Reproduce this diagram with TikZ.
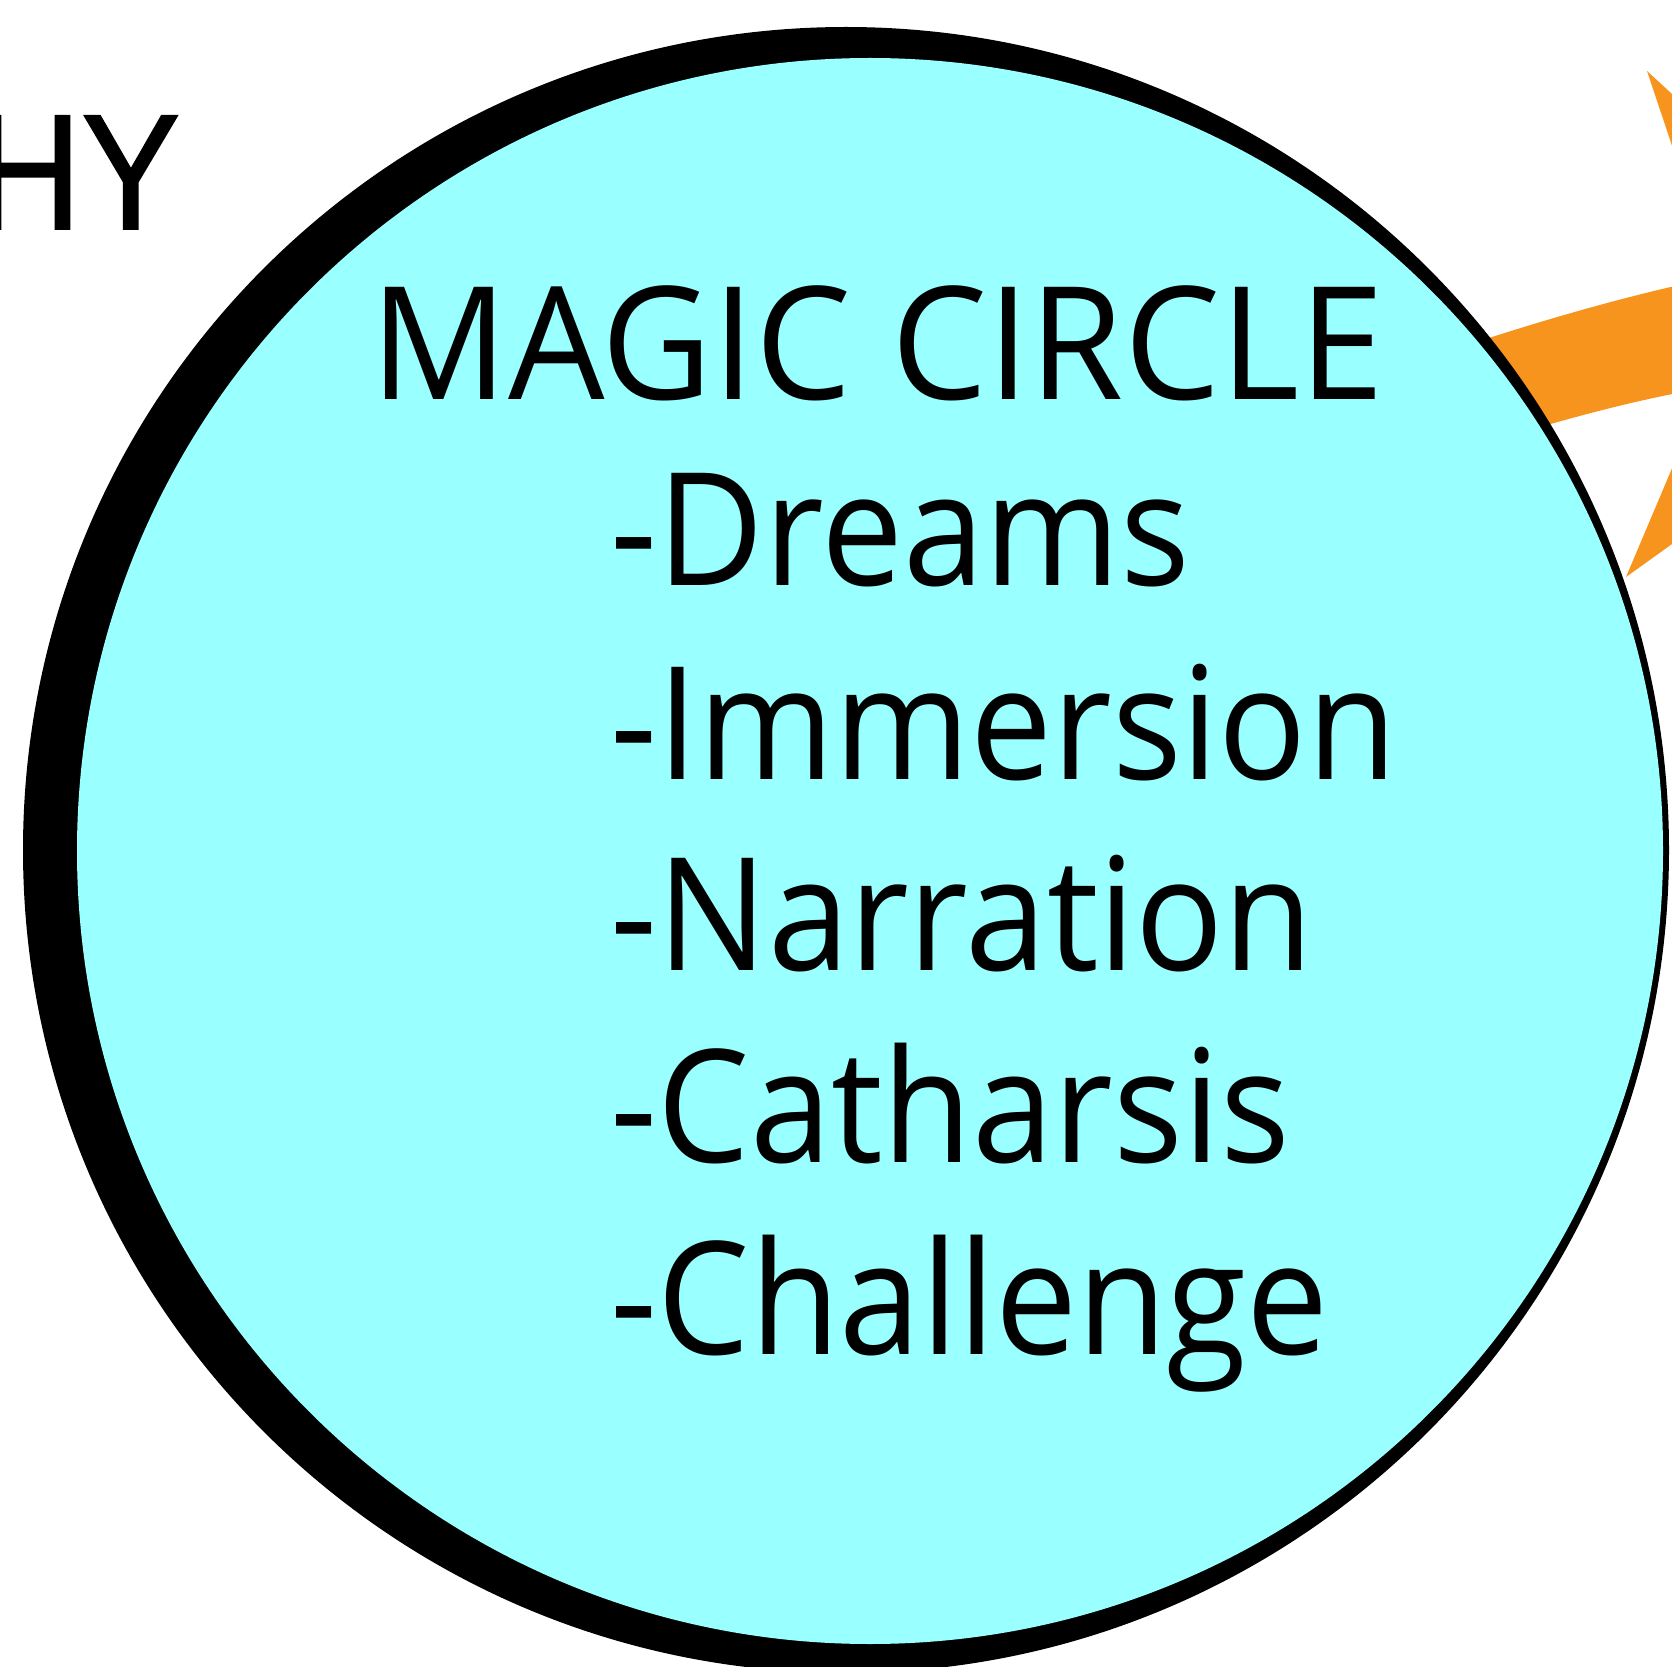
\documentclass[tikz,border=0pt]{standalone}
\usepackage{fontspec}
\setmainfont{Liberation Sans}
\newfontfamily\headfont[FakeStretch=0.9, FakeBold=1.2]{Liberation Sans}
\newfontfamily\titlefont[FakeStretch=0.97]{Open Sans}
\newfontfamily\listfont[FakeStretch=0.93]{Open Sans}
\definecolor{circleCyan}{HTML}{99FFFF}
\definecolor{arrowOrange}{HTML}{F7941D}
\usetikzlibrary{positioning}

\begin{document}
\begin{tikzpicture}[
    x=0.01cm, y=-0.01cm,
    label/.style={inner sep=0pt, font=\listfont\fontsize{44.7}{53}\selectfont, text=black},
    title/.style={inner sep=0pt, font=\titlefont\fontsize{44.7}{53}\selectfont, text=black},
    big/.style={inner sep=0pt, font=\headfont\fontsize{46.8}{55}\selectfont, text=black}
]
\useasboundingbox (0,0) rectangle (1672,1667);
\clip (0,0) rectangle (1672,1667);

% Orange arrow (behind the circle)
\fill[arrowOrange] (1350,385) .. controls (1450,350) and (1580,305) .. (1716,277)
    -- (1647,71) -- (1947,347) -- (1626,577) -- (1706,388)
    .. controls (1600,405) and (1480,445) .. (1350,485) -- cycle;

% Magic circle with shadow
\fill[black] (846,850) circle (823);
\fill[circleCyan] (870,851) circle (793);

% Cut-off heading
\node[big, anchor=base east] (head) at (181,229) {HY};

% Title
\node[title, anchor=base west] (title) at (370,400) {MAGIC CIRCLE};

% List
\node[label, anchor=base west] (dreams) at (610,586) {-Dreams};
\node[label, anchor=base west] (immersion) at (610,779) {-Immersion};
\node[label, anchor=base west] (narration) at (610,970) {-Narration};
\node[label, anchor=base west] (catharsis) at (610,1162) {-Catharsis};
\node[label, anchor=base west] (challenge) at (610,1354) {-Challenge};

\end{tikzpicture}
\end{document}
